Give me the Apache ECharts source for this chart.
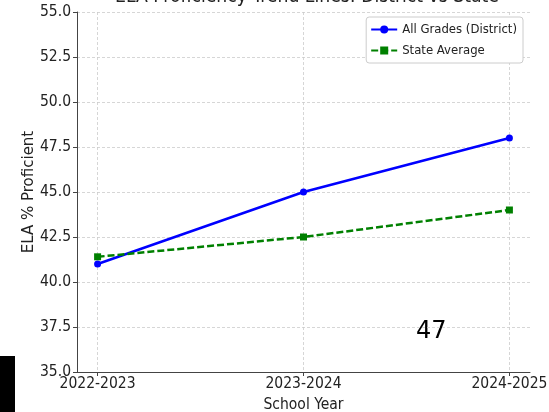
<!DOCTYPE html>
<html><head><meta charset="utf-8">
<script src="https://cdn.jsdelivr.net/npm/echarts@6/dist/echarts.min.js"></script>
<style>html,body{margin:0;padding:0;background:#fff}#c{width:549px;height:412px}</style>
</head><body><div id="c"></div>
<script>
const categories = ['2022-2023', '2023-2024', '2024-2025'];
const districtValues = [41.0, 45.0, 48.0];
const stateValues = [41.4, 42.5, 44.0];
const yTicks = [35, 37.5, 40, 42.5, 45, 47.5, 50, 52.5, 55];
const annotationText = '47';

const FONT = '"DejaVu Sans Condensed", "DejaVu Sans", sans-serif';
const chart = echarts.init(document.getElementById('c'));
const idx = categories.map((_, i) => i);
chart.setOption({
  animation: false,
  title: {
    text: 'ELA Proficiency Trend Lines: District vs State',
    left: 110, top: -17,
    textStyle: { fontFamily: FONT, fontSize: 19.2, fontWeight: 'normal', color: '#222' }
  },
  grid: { left: 77, right: 19, top: 12, bottom: 40, containLabel: false, outerBoundsMode: 'none' },
  legend: {
    orient: 'vertical', right: 26, top: 17,
    backgroundColor: '#fff', borderColor: '#ccc', borderWidth: 1, borderRadius: 3,
    padding: [6, 6, 6, 4], itemGap: 8, itemWidth: 26, itemHeight: 10,
    textStyle: { fontFamily: FONT, fontSize: 13, color: '#222' },
    data: ['All Grades (District)', 'State Average']
  },
  xAxis: {
    type: 'value', min: -0.1, max: 2.1,
    name: 'School Year', nameLocation: 'middle', nameGap: 25, nameMoveOverlap: false,
    nameTextStyle: { fontFamily: FONT, fontSize: 15.5, color: '#222' },
    axisLine: { onZero: false, lineStyle: { color: '#444', width: 1 } },
    axisTick: { show: true, length: 4, inside: false, customValues: idx, lineStyle: { color: '#444' } },
    axisLabel: { customValues: idx, fontFamily: FONT, fontSize: 15.5, color: '#222', margin: 4,
      formatter: v => categories[Math.round(v)] },
    splitLine: { show: true, lineStyle: { color: '#ccc', type: [3, 2], width: 0.8 } }
  },
  yAxis: {
    type: 'value', min: yTicks[0], max: yTicks[yTicks.length - 1], interval: 2.5,
    name: 'ELA % Proficient', nameLocation: 'middle', nameGap: 40, nameMoveOverlap: false,
    nameTextStyle: { fontFamily: '"DejaVu Sans", sans-serif', fontSize: 15, color: '#222' },
    axisLine: { show: true, onZero: false, lineStyle: { color: '#444', width: 1 } },
    axisTick: { show: true, length: 4, lineStyle: { color: '#444' } },
    axisLabel: { fontFamily: FONT, fontSize: 15.5, color: '#222', margin: 6,
      formatter: v => v.toFixed(1) },
    splitLine: { show: true, lineStyle: { color: '#ccc', type: [3, 2], width: 0.8 } }
  },
  series: [
    {
      name: 'All Grades (District)', type: 'line',
      data: districtValues.map((v, i) => [i, v]),
      symbol: 'circle', symbolSize: 7,
      lineStyle: { color: '#0000ff', width: 2.5 },
      itemStyle: { color: '#0000ff' }
    },
    {
      name: 'State Average', type: 'line',
      data: stateValues.map((v, i) => [i, v]),
      symbol: 'rect', symbolSize: 7,
      lineStyle: { color: '#008000', width: 2.5, type: [7, 3] },
      itemStyle: { color: '#008000' }
    }
  ],
  graphic: [
    { type: 'rect', left: 0, bottom: 0, shape: { width: 15, height: 56 }, style: { fill: '#000' } },
    { type: 'text', left: 416, top: 320, style: { text: annotationText, fontFamily: '"DejaVu Sans", sans-serif', fontSize: 24, fill: '#000' } }
  ]
});
</script></body></html>
